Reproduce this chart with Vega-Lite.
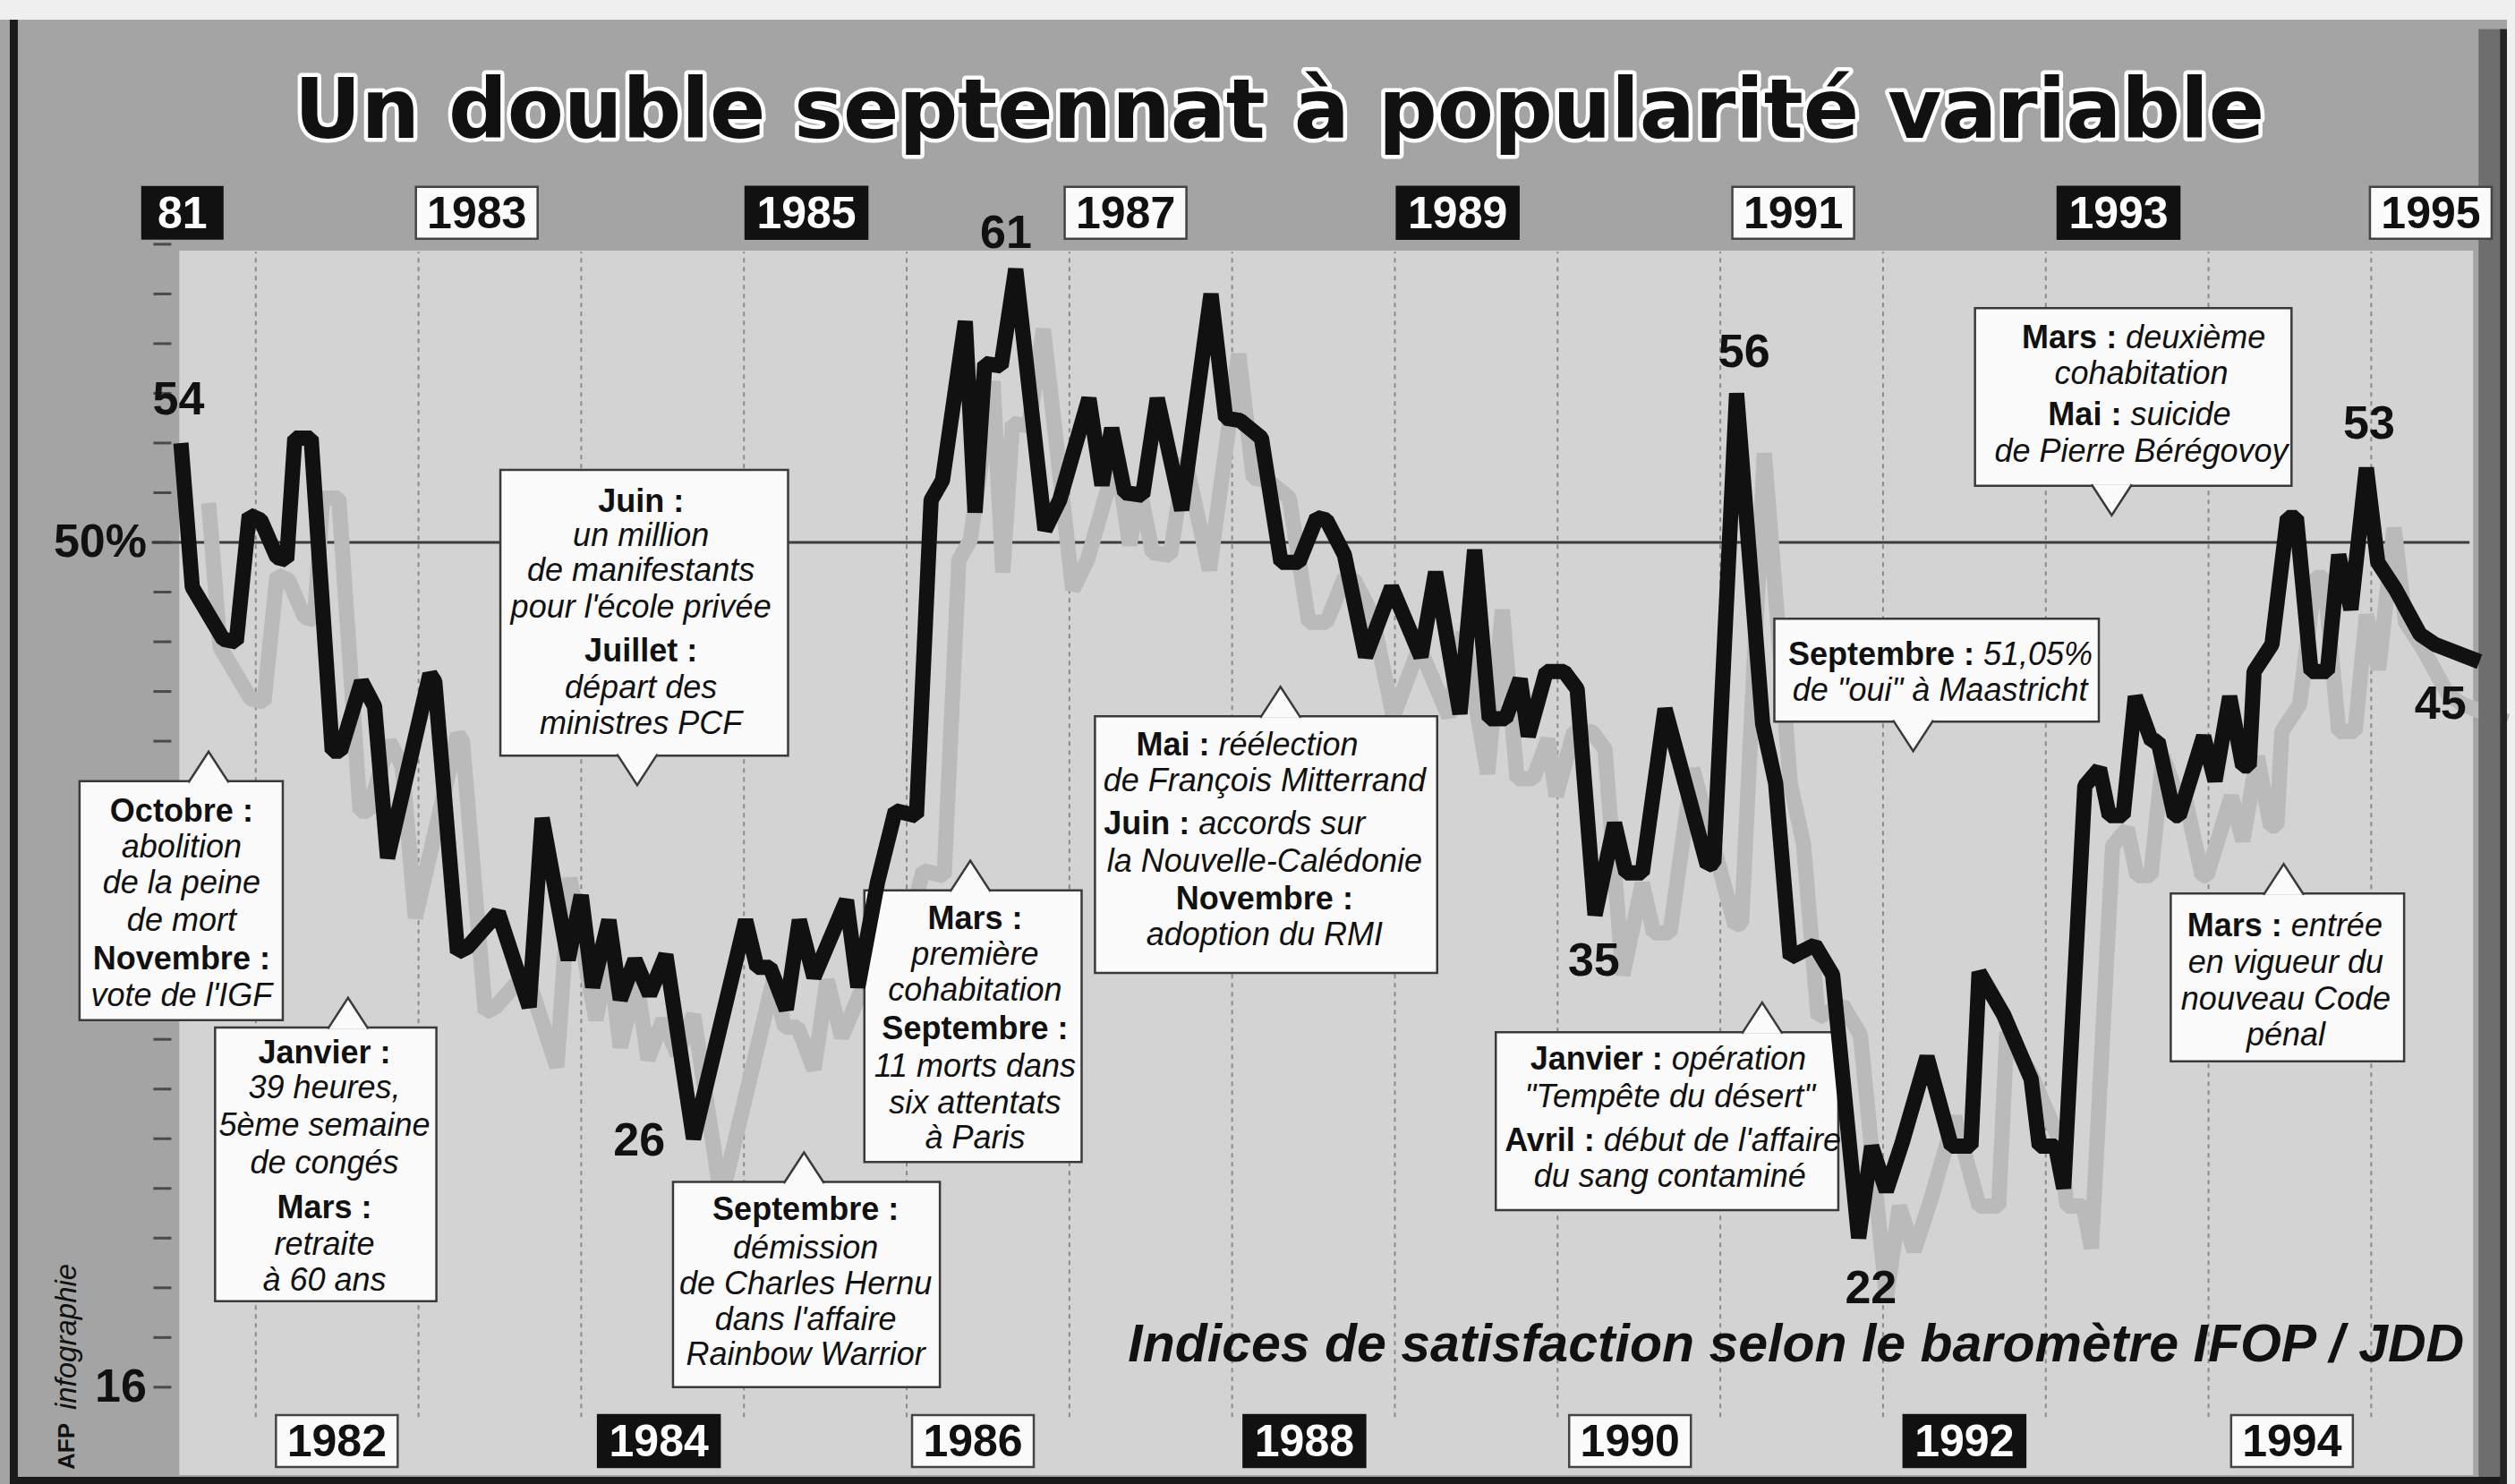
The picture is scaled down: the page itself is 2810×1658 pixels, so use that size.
{
  "$schema": "https://vega.github.io/schema/vega-lite/v6.json",
  "width": 2810,
  "height": 1658,
  "autosize": {"type": "fit", "contains": "padding"},
  "padding": 0,
  "background": "#efefef",
  "config": {"view": {"stroke": null}},
  "datasets": {
    "serie": [
      {"date":1981.54,"indice":54},{"date":1981.61,"indice":48.2},{"date":1981.80,"indice":46.1},{"date":1981.88,"indice":46.0},
      {"date":1981.96,"indice":51.1},{"date":1982.03,"indice":50.9},{"date":1982.13,"indice":49.4},{"date":1982.19,"indice":49.3},
      {"date":1982.24,"indice":54.2},{"date":1982.34,"indice":54.2},{"date":1982.47,"indice":41.6},{"date":1982.52,"indice":41.6},
      {"date":1982.65,"indice":44.4},{"date":1982.73,"indice":43.4},{"date":1982.81,"indice":37.3},{"date":1983.07,"indice":44.7},
      {"date":1983.10,"indice":44.4},{"date":1983.24,"indice":33.5},{"date":1983.30,"indice":33.7},{"date":1983.49,"indice":35.1},
      {"date":1983.68,"indice":31.3},{"date":1983.76,"indice":38.9},{"date":1983.92,"indice":33.2},{"date":1984.00,"indice":35.8},
      {"date":1984.07,"indice":32.1},{"date":1984.17,"indice":34.8},{"date":1984.24,"indice":31.6},{"date":1984.33,"indice":33.2},
      {"date":1984.42,"indice":31.8},{"date":1984.52,"indice":33.4},{"date":1984.69,"indice":26},{"date":1985.01,"indice":34.8},
      {"date":1985.08,"indice":32.9},{"date":1985.16,"indice":32.9},{"date":1985.26,"indice":31.2},{"date":1985.34,"indice":34.8},
      {"date":1985.43,"indice":32.5},{"date":1985.63,"indice":35.6},{"date":1985.70,"indice":32.1},{"date":1985.82,"indice":36.3},
      {"date":1985.93,"indice":39.2},{"date":1986.06,"indice":39.0},{"date":1986.15,"indice":51.7},{"date":1986.22,"indice":52.5},
      {"date":1986.36,"indice":58.9},{"date":1986.42,"indice":51.2},{"date":1986.48,"indice":57.2},{"date":1986.58,"indice":57.1},
      {"date":1986.67,"indice":61},{"date":1986.85,"indice":50.5},{"date":1986.94,"indice":51.7},{"date":1987.12,"indice":55.8},
      {"date":1987.20,"indice":52.3},{"date":1987.26,"indice":54.6},{"date":1987.34,"indice":52.0},{"date":1987.45,"indice":51.9},
      {"date":1987.54,"indice":55.8},{"date":1987.69,"indice":51.3},{"date":1987.87,"indice":60.0},{"date":1987.96,"indice":55.0},
      {"date":1988.05,"indice":54.9},{"date":1988.18,"indice":54.2},{"date":1988.30,"indice":49.2},{"date":1988.41,"indice":49.2},
      {"date":1988.52,"indice":51.0},{"date":1988.58,"indice":50.9},{"date":1988.69,"indice":49.5},{"date":1988.82,"indice":45.4},
      {"date":1988.98,"indice":48.2},{"date":1989.16,"indice":45.4},{"date":1989.25,"indice":48.8},{"date":1989.40,"indice":43.1},
      {"date":1989.49,"indice":49.7},{"date":1989.58,"indice":42.9},{"date":1989.68,"indice":42.9},{"date":1989.77,"indice":44.5},
      {"date":1989.82,"indice":42.2},{"date":1989.93,"indice":44.8},{"date":1990.04,"indice":44.8},{"date":1990.12,"indice":44.1},
      {"date":1990.23,"indice":35},{"date":1990.35,"indice":38.7},{"date":1990.42,"indice":36.7},{"date":1990.52,"indice":36.7},
      {"date":1990.66,"indice":43.3},{"date":1990.92,"indice":37.0},{"date":1990.96,"indice":37.1},{"date":1991.10,"indice":56},
      {"date":1991.26,"indice":42.7},{"date":1991.34,"indice":40.3},{"date":1991.43,"indice":33.3},{"date":1991.58,"indice":33.8},
      {"date":1991.69,"indice":32.6},{"date":1991.85,"indice":22},{"date":1991.93,"indice":25.7},{"date":1992.02,"indice":23.9},
      {"date":1992.12,"indice":25.9},{"date":1992.27,"indice":29.3},{"date":1992.42,"indice":25.7},{"date":1992.54,"indice":25.7},
      {"date":1992.59,"indice":32.7},{"date":1992.74,"indice":31.0},{"date":1992.91,"indice":28.4},{"date":1992.96,"indice":25.7},
      {"date":1993.06,"indice":25.7},{"date":1993.11,"indice":24.0},{"date":1993.24,"indice":40.2},{"date":1993.33,"indice":40.9},
      {"date":1993.39,"indice":39.0},{"date":1993.475,"indice":39.0},{"date":1993.55,"indice":43.8},{"date":1993.65,"indice":42.0},
      {"date":1993.69,"indice":42.0},{"date":1993.79,"indice":39.0},{"date":1993.82,"indice":39.0},{"date":1993.97,"indice":42.2},
      {"date":1994.04,"indice":40.4},{"date":1994.13,"indice":43.8},{"date":1994.21,"indice":41.0},{"date":1994.25,"indice":41.0},
      {"date":1994.28,"indice":44.8},{"date":1994.39,"indice":45.9},{"date":1994.485,"indice":51.0},{"date":1994.54,"indice":51.0},
      {"date":1994.63,"indice":44.8},{"date":1994.73,"indice":44.8},{"date":1994.80,"indice":49.5},{"date":1994.875,"indice":47.3},
      {"date":1994.97,"indice":53},{"date":1995.04,"indice":49.2},{"date":1995.15,"indice":48.1},{"date":1995.30,"indice":46.3},
      {"date":1995.39,"indice":45.9},{"date":1995.665,"indice":45.2}
    ],
    "grille": [
      {"annee":1982},{"annee":1983},{"annee":1984},{"annee":1985},{"annee":1986},{"annee":1987},{"annee":1988},
      {"annee":1989},{"annee":1990},{"annee":1991},{"annee":1992},{"annee":1993},{"annee":1994},{"annee":1995}
    ],
    "graduations": [
      {"valeur":16,"label":"16"},{"valeur":18,"label":""},{"valeur":20,"label":""},{"valeur":22,"label":""},
      {"valeur":24,"label":""},{"valeur":26,"label":""},{"valeur":28,"label":""},{"valeur":30,"label":""},
      {"valeur":32,"label":""},{"valeur":34,"label":""},{"valeur":36,"label":""},{"valeur":38,"label":""},
      {"valeur":40,"label":""},{"valeur":42,"label":""},{"valeur":44,"label":""},{"valeur":46,"label":""},
      {"valeur":48,"label":""},{"valeur":50,"label":"50%"},{"valeur":52,"label":""},{"valeur":54,"label":""},
      {"valeur":56,"label":""},{"valeur":58,"label":""},{"valeur":60,"label":""},{"valeur":62,"label":""}
    ],
    "annees": [
      {"annee":1981,"label":"81","date":1981.549},
      {"annee":1982,"label":"1982","date":1982.498},
      {"annee":1983,"label":"1983","date":1983.358},
      {"annee":1984,"label":"1984","date":1984.477},
      {"annee":1985,"label":"1985","date":1985.384},
      {"annee":1986,"label":"1986","date":1986.407},
      {"annee":1987,"label":"1987","date":1987.345},
      {"annee":1988,"label":"1988","date":1988.444},
      {"annee":1989,"label":"1989","date":1989.386},
      {"annee":1990,"label":"1990","date":1990.445},
      {"annee":1991,"label":"1991","date":1991.448},
      {"annee":1992,"label":"1992","date":1992.5},
      {"annee":1993,"label":"1993","date":1993.447},
      {"annee":1994,"label":"1994","date":1994.513},
      {"annee":1995,"label":"1995","date":1995.366}
    ],
    "pics": [
      {"date":1981.525,"indice":55.73,"label":"54"},
      {"date":1986.61,"indice":62.43,"label":"61"},
      {"date":1984.356,"indice":25.91,"label":"26"},
      {"date":1991.146,"indice":57.64,"label":"56"},
      {"date":1990.223,"indice":33.14,"label":"35"},
      {"date":1991.925,"indice":19.96,"label":"22"},
      {"date":1994.987,"indice":54.75,"label":"53"},
      {"date":1995.425,"indice":43.48,"label":"45"}
    ],
    "boites": [
      {"id":"A1","debut":1980.917,"fin":1982.166,"bas":30.77,"haut":40.39,"pointe":1981.71,"sens":"haut"},
      {"id":"A2","debut":1981.75,"fin":1983.11,"bas":19.46,"haut":30.48,"pointe":1982.567,"sens":"haut"},
      {"id":"A3","debut":1983.503,"fin":1985.271,"bas":41.42,"haut":52.92,"pointe":1984.344,"sens":"bas"},
      {"id":"A4","debut":1984.564,"fin":1986.204,"bas":16.0,"haut":24.26,"pointe":1985.369,"sens":"haut"},
      {"id":"A5","debut":1985.74,"fin":1987.075,"bas":25.06,"haut":36.0,"pointe":1986.391,"sens":"haut"},
      {"id":"A6","debut":1987.157,"fin":1989.26,"bas":32.67,"haut":43.0,"pointe":1988.297,"sens":"haut"},
      {"id":"A7","debut":1992.565,"fin":1994.51,"bas":52.28,"haut":59.43,"pointe":1993.405,"sens":"bas"},
      {"id":"A8","debut":1991.332,"fin":1993.326,"bas":42.79,"haut":46.93,"pointe":1992.185,"sens":"bas"},
      {"id":"A9","debut":1989.62,"fin":1991.725,"bas":23.13,"haut":30.29,"pointe":1991.257,"sens":"haut"},
      {"id":"A10","debut":1993.768,"fin":1995.202,"bas":29.12,"haut":35.87,"pointe":1994.462,"sens":"haut"}
    ],
    "notes": [
      {"date":1981.544,"indice":39.16,"texte":"Octobre :","type":"mois","partie":"centre"},
      {"date":1981.544,"indice":37.70,"texte":"abolition","type":"evenement","partie":"centre"},
      {"date":1981.544,"indice":36.26,"texte":"de la peine","type":"evenement","partie":"centre"},
      {"date":1981.544,"indice":34.77,"texte":"de mort","type":"evenement","partie":"centre"},
      {"date":1981.544,"indice":33.23,"texte":"Novembre :","type":"mois","partie":"centre"},
      {"date":1981.544,"indice":31.74,"texte":"vote de l'IGF","type":"evenement","partie":"centre"},

      {"date":1982.422,"indice":29.43,"texte":"Janvier :","type":"mois","partie":"centre"},
      {"date":1982.422,"indice":28.03,"texte":"39 heures,","type":"evenement","partie":"centre"},
      {"date":1982.422,"indice":26.52,"texte":"5ème semaine","type":"evenement","partie":"centre"},
      {"date":1982.422,"indice":25.01,"texte":"de congés","type":"evenement","partie":"centre"},
      {"date":1982.422,"indice":23.19,"texte":"Mars :","type":"mois","partie":"centre"},
      {"date":1982.422,"indice":21.74,"texte":"retraite","type":"evenement","partie":"centre"},
      {"date":1982.422,"indice":20.28,"texte":"à 60 ans","type":"evenement","partie":"centre"},

      {"date":1984.367,"indice":51.63,"texte":"Juin :","type":"mois","partie":"centre"},
      {"date":1984.367,"indice":50.27,"texte":"un million","type":"evenement","partie":"centre"},
      {"date":1984.367,"indice":48.84,"texte":"de manifestants","type":"evenement","partie":"centre"},
      {"date":1984.367,"indice":47.37,"texte":"pour l'école privée","type":"evenement","partie":"centre"},
      {"date":1984.367,"indice":45.59,"texte":"Juillet :","type":"mois","partie":"centre"},
      {"date":1984.367,"indice":44.13,"texte":"départ des","type":"evenement","partie":"centre"},
      {"date":1984.367,"indice":42.68,"texte":"ministres PCF","type":"evenement","partie":"centre"},

      {"date":1985.379,"indice":23.13,"texte":"Septembre :","type":"mois","partie":"centre"},
      {"date":1985.379,"indice":21.59,"texte":"démission","type":"evenement","partie":"centre"},
      {"date":1985.379,"indice":20.15,"texte":"de Charles Hernu","type":"evenement","partie":"centre"},
      {"date":1985.379,"indice":18.71,"texte":"dans l'affaire","type":"evenement","partie":"centre"},
      {"date":1985.379,"indice":17.29,"texte":"Rainbow Warrior","type":"evenement","partie":"centre"},

      {"date":1986.42,"indice":34.85,"texte":"Mars :","type":"mois","partie":"centre"},
      {"date":1986.42,"indice":33.39,"texte":"première","type":"evenement","partie":"centre"},
      {"date":1986.42,"indice":31.94,"texte":"cohabitation","type":"evenement","partie":"centre"},
      {"date":1986.42,"indice":30.41,"texte":"Septembre :","type":"mois","partie":"centre"},
      {"date":1986.42,"indice":28.90,"texte":"11 morts dans","type":"evenement","partie":"centre"},
      {"date":1986.42,"indice":27.42,"texte":"six attentats","type":"evenement","partie":"centre"},
      {"date":1986.42,"indice":26.0,"texte":"à Paris","type":"evenement","partie":"centre"},

      {"date":1987.889,"indice":41.83,"texte":"Mai :","type":"mois","partie":"gauche"},
      {"date":1987.889,"indice":41.83,"texte":"réélection","type":"evenement","partie":"droite"},
      {"date":1988.199,"indice":40.39,"texte":"de François Mitterrand","type":"evenement","partie":"centre"},
      {"date":1987.766,"indice":38.66,"texte":"Juin :","type":"mois","partie":"gauche"},
      {"date":1987.766,"indice":38.66,"texte":"accords sur","type":"evenement","partie":"droite"},
      {"date":1988.199,"indice":37.14,"texte":"la Nouvelle-Calédonie","type":"evenement","partie":"centre"},
      {"date":1988.199,"indice":35.63,"texte":"Novembre :","type":"mois","partie":"centre"},
      {"date":1988.199,"indice":34.18,"texte":"adoption du RMI","type":"evenement","partie":"centre"},

      {"date":1993.464,"indice":58.23,"texte":"Mars :","type":"mois","partie":"gauche"},
      {"date":1993.464,"indice":58.23,"texte":"deuxième","type":"evenement","partie":"droite"},
      {"date":1993.587,"indice":56.77,"texte":"cohabitation","type":"evenement","partie":"centre"},
      {"date":1993.493,"indice":55.10,"texte":"Mai :","type":"mois","partie":"gauche"},
      {"date":1993.493,"indice":55.10,"texte":"suicide","type":"evenement","partie":"droite"},
      {"date":1993.587,"indice":53.65,"texte":"de Pierre Bérégovoy","type":"evenement","partie":"centre"},

      {"date":1992.589,"indice":45.46,"texte":"Septembre :","type":"mois","partie":"gauche"},
      {"date":1992.589,"indice":45.46,"texte":"51,05%","type":"evenement","partie":"droite"},
      {"date":1992.35,"indice":44.01,"texte":"de \"oui\" à Maastricht","type":"evenement","partie":"centre"},

      {"date":1990.674,"indice":29.19,"texte":"Janvier :","type":"mois","partie":"gauche"},
      {"date":1990.674,"indice":29.19,"texte":"opération","type":"evenement","partie":"droite"},
      {"date":1990.69,"indice":27.68,"texte":"\"Tempête du désert\"","type":"evenement","partie":"centre"},
      {"date":1990.256,"indice":25.91,"texte":"Avril :","type":"mois","partie":"gauche"},
      {"date":1990.256,"indice":25.91,"texte":"début de l'affaire","type":"evenement","partie":"droite"},
      {"date":1990.69,"indice":24.46,"texte":"du sang contaminé","type":"evenement","partie":"centre"},

      {"date":1994.48,"indice":34.54,"texte":"Mars :","type":"mois","partie":"gauche"},
      {"date":1994.48,"indice":34.54,"texte":"entrée","type":"evenement","partie":"droite"},
      {"date":1994.475,"indice":33.08,"texte":"en vigueur du","type":"evenement","partie":"centre"},
      {"date":1994.475,"indice":31.61,"texte":"nouveau Code","type":"evenement","partie":"centre"},
      {"date":1994.475,"indice":30.16,"texte":"pénal","type":"evenement","partie":"centre"}
    ],
    "textes": [
      {"role":"titre","texte":"Un double septennat à popularité variable"},
      {"role":"source","texte":"Indices de satisfaction selon le baromètre IFOP / JDD"},
      {"role":"agence","texte":"AFP"},
      {"role":"service","texte":"infographie"}
    ]
  },
  "layer": [
    {
      "data": {"values": [{}]},
      "mark": {"type": "rect", "fill": "#a4a4a4"},
      "encoding": {
        "x": {"datum": 1980.4282, "type": "quantitative", "scale": {"domain": [1980.4282, 1995.8339], "nice": false, "zero": false}, "axis": null},
        "x2": {"datum": 1995.8339},
        "y": {"datum": 12.104, "type": "quantitative", "scale": {"domain": [12.104, 71.83], "nice": false, "zero": false}, "axis": null},
        "y2": {"datum": 71.04}
      }
    },
    {
      "data": {"values": [{}]},
      "mark": {"type": "rect", "fill": "#d3d3d3"},
      "encoding": {
        "x": {"datum": 1981.53, "type": "quantitative", "scale": {"domain": [1980.4282, 1995.8339], "nice": false, "zero": false}, "axis": null},
        "x2": {"datum": 1995.626},
        "y": {"datum": 12.46, "type": "quantitative", "scale": {"domain": [12.104, 71.83], "nice": false, "zero": false}, "axis": null},
        "y2": {"datum": 61.74}
      }
    },
    {
      "data": {"values": [{}]},
      "mark": {"type": "rect", "fill": "#1a1a1a"},
      "encoding": {
        "x": {"datum": 1980.4885, "type": "quantitative", "scale": {"domain": [1980.4282, 1995.8339], "nice": false, "zero": false}, "axis": null},
        "x2": {"datum": 1980.5378},
        "y": {"datum": 12.104, "type": "quantitative", "scale": {"domain": [12.104, 71.83], "nice": false, "zero": false}, "axis": null},
        "y2": {"datum": 71.04}
      }
    },
    {
      "data": {"values": [{}]},
      "mark": {"type": "rect", "fill": "#1a1a1a"},
      "encoding": {
        "x": {"datum": 1980.4885, "type": "quantitative", "scale": {"domain": [1980.4282, 1995.8339], "nice": false, "zero": false}, "axis": null},
        "x2": {"datum": 1995.8339},
        "y": {"datum": 12.104, "type": "quantitative", "scale": {"domain": [12.104, 71.83], "nice": false, "zero": false}, "axis": null},
        "y2": {"datum": 12.392}
      }
    },
    {
      "data": {"name": "grille"},
      "mark": {"type": "rule", "stroke": "#8a8a8a", "strokeWidth": 2, "strokeDash": [5, 5]},
      "encoding": {
        "x": {"field": "annee", "type": "quantitative", "scale": {"domain": [1980.4282, 1995.8339], "nice": false, "zero": false}, "axis": null},
        "y": {"datum": 14.8, "type": "quantitative", "scale": {"domain": [12.104, 71.83], "nice": false, "zero": false}, "axis": null},
        "y2": {"datum": 61.7}
      }
    },
    {
      "data": {"name": "graduations"},
      "mark": {"type": "rule", "stroke": "#4a4a4a", "strokeWidth": 3},
      "encoding": {
        "x": {"datum": 1981.371, "type": "quantitative", "scale": {"domain": [1980.4282, 1995.8339], "nice": false, "zero": false}, "axis": null},
        "x2": {"datum": 1981.481},
        "y": {"field": "valeur", "type": "quantitative", "scale": {"domain": [12.104, 71.83], "nice": false, "zero": false}, "axis": null}
      }
    },
    {
      "data": {"name": "graduations"},
      "transform": [{"filter": "datum.label != ''"}],
      "mark": {"type": "text", "font": "Liberation Sans, Arial, sans-serif", "fontWeight": "bold", "fontSize": 52, "fill": "#111", "align": "right", "baseline": "middle"},
      "encoding": {
        "x": {"datum": 1981.33, "type": "quantitative", "scale": {"domain": [1980.4282, 1995.8339], "nice": false, "zero": false}, "axis": null},
        "y": {"field": "valeur", "type": "quantitative", "scale": {"domain": [12.104, 71.83], "nice": false, "zero": false}, "axis": null},
        "text": {"field": "label"}
      }
    },
    {
      "data": {"values": [{}]},
      "mark": {"type": "rule", "stroke": "#3c3c3c", "strokeWidth": 3},
      "encoding": {
        "x": {"datum": 1981.361, "type": "quantitative", "scale": {"domain": [1980.4282, 1995.8339], "nice": false, "zero": false}, "axis": null},
        "x2": {"datum": 1995.604},
        "y": {"datum": 50, "type": "quantitative", "scale": {"domain": [12.104, 71.83], "nice": false, "zero": false}, "axis": null}
      }
    },
    {
      "data": {"name": "serie"},
      "mark": {"type": "line", "stroke": "#bababa", "strokeWidth": 17, "strokeJoin": "bevel", "xOffset": 31, "yOffset": 67},
      "encoding": {
        "x": {"field": "date", "type": "quantitative", "scale": {"domain": [1980.4282, 1995.8339], "nice": false, "zero": false}, "axis": null},
        "y": {"field": "indice", "type": "quantitative", "scale": {"domain": [12.104, 71.83], "nice": false, "zero": false}, "axis": null}
      }
    },
    {
      "data": {"values": [{}]},
      "mark": {"type": "rect", "fill": "#6e6e6e"},
      "encoding": {
        "x": {"datum": 1995.659, "type": "quantitative", "scale": {"domain": [1980.4282, 1995.8339], "nice": false, "zero": false}, "axis": null},
        "x2": {"datum": 1995.791},
        "y": {"datum": 12.392, "type": "quantitative", "scale": {"domain": [12.104, 71.83], "nice": false, "zero": false}, "axis": null},
        "y2": {"datum": 70.66}
      }
    },
    {
      "data": {"values": [{}]},
      "mark": {"type": "rect", "fill": "#222222"},
      "encoding": {
        "x": {"datum": 1995.791, "type": "quantitative", "scale": {"domain": [1980.4282, 1995.8339], "nice": false, "zero": false}, "axis": null},
        "x2": {"datum": 1995.8339},
        "y": {"datum": 12.104, "type": "quantitative", "scale": {"domain": [12.104, 71.83], "nice": false, "zero": false}, "axis": null},
        "y2": {"datum": 70.66}
      }
    },
    {
      "data": {"name": "boites"},
      "mark": {"type": "rect", "fill": "#fbfbfb", "stroke": "#3a3a3a", "strokeWidth": 2.5},
      "encoding": {
        "x": {"field": "debut", "type": "quantitative", "scale": {"domain": [1980.4282, 1995.8339], "nice": false, "zero": false}, "axis": null},
        "x2": {"field": "fin"},
        "y": {"field": "bas", "type": "quantitative", "scale": {"domain": [12.104, 71.83], "nice": false, "zero": false}, "axis": null},
        "y2": {"field": "haut"}
      }
    },
    {
      "data": {"name": "boites"},
      "transform": [{"filter": "datum.sens == 'haut'"}],
      "mark": {"type": "point", "shape": "M-1,0.7667L0,-0.7667L1,0.7667", "size": 2025, "filled": true, "fill": "#fbfbfb", "stroke": "#3a3a3a", "strokeWidth": 2.5, "opacity": 1, "yOffset": -15.75},
      "encoding": {
        "x": {"field": "pointe", "type": "quantitative", "scale": {"domain": [1980.4282, 1995.8339], "nice": false, "zero": false}, "axis": null},
        "y": {"field": "haut", "type": "quantitative", "scale": {"domain": [12.104, 71.83], "nice": false, "zero": false}, "axis": null}
      }
    },
    {
      "data": {"name": "boites"},
      "transform": [{"filter": "datum.sens == 'bas'"}],
      "mark": {"type": "point", "shape": "M-1,-0.7667L0,0.7667L1,-0.7667", "size": 2025, "filled": true, "fill": "#fbfbfb", "stroke": "#3a3a3a", "strokeWidth": 2.5, "opacity": 1, "yOffset": 15.75},
      "encoding": {
        "x": {"field": "pointe", "type": "quantitative", "scale": {"domain": [1980.4282, 1995.8339], "nice": false, "zero": false}, "axis": null},
        "y": {"field": "bas", "type": "quantitative", "scale": {"domain": [12.104, 71.83], "nice": false, "zero": false}, "axis": null}
      }
    },
    {
      "data": {"name": "notes"},
      "transform": [{"filter": "datum.type == 'mois' && datum.partie == 'centre'"}],
      "mark": {"type": "text", "font": "Liberation Sans, Arial, sans-serif", "fontWeight": "bold", "fontSize": 36, "fill": "#111", "align": "center", "baseline": "middle"},
      "encoding": {
        "x": {"field": "date", "type": "quantitative", "scale": {"domain": [1980.4282, 1995.8339], "nice": false, "zero": false}, "axis": null},
        "y": {"field": "indice", "type": "quantitative", "scale": {"domain": [12.104, 71.83], "nice": false, "zero": false}, "axis": null},
        "text": {"field": "texte"}
      }
    },
    {
      "data": {"name": "notes"},
      "transform": [{"filter": "datum.type == 'evenement' && datum.partie == 'centre'"}],
      "mark": {"type": "text", "font": "Liberation Sans, Arial, sans-serif", "fontStyle": "italic", "fontSize": 36, "fill": "#111", "align": "center", "baseline": "middle"},
      "encoding": {
        "x": {"field": "date", "type": "quantitative", "scale": {"domain": [1980.4282, 1995.8339], "nice": false, "zero": false}, "axis": null},
        "y": {"field": "indice", "type": "quantitative", "scale": {"domain": [12.104, 71.83], "nice": false, "zero": false}, "axis": null},
        "text": {"field": "texte"}
      }
    },
    {
      "data": {"name": "notes"},
      "transform": [{"filter": "datum.partie == 'gauche'"}],
      "mark": {"type": "text", "font": "Liberation Sans, Arial, sans-serif", "fontWeight": "bold", "fontSize": 36, "fill": "#111", "align": "right", "baseline": "middle", "dx": -5},
      "encoding": {
        "x": {"field": "date", "type": "quantitative", "scale": {"domain": [1980.4282, 1995.8339], "nice": false, "zero": false}, "axis": null},
        "y": {"field": "indice", "type": "quantitative", "scale": {"domain": [12.104, 71.83], "nice": false, "zero": false}, "axis": null},
        "text": {"field": "texte"}
      }
    },
    {
      "data": {"name": "notes"},
      "transform": [{"filter": "datum.partie == 'droite'"}],
      "mark": {"type": "text", "font": "Liberation Sans, Arial, sans-serif", "fontStyle": "italic", "fontSize": 36, "fill": "#111", "align": "left", "baseline": "middle", "dx": 5},
      "encoding": {
        "x": {"field": "date", "type": "quantitative", "scale": {"domain": [1980.4282, 1995.8339], "nice": false, "zero": false}, "axis": null},
        "y": {"field": "indice", "type": "quantitative", "scale": {"domain": [12.104, 71.83], "nice": false, "zero": false}, "axis": null},
        "text": {"field": "texte"}
      }
    },
    {
      "data": {"name": "serie"},
      "mark": {"type": "line", "stroke": "#111111", "strokeWidth": 17, "strokeJoin": "bevel"},
      "encoding": {
        "x": {"field": "date", "type": "quantitative", "scale": {"domain": [1980.4282, 1995.8339], "nice": false, "zero": false}, "axis": null},
        "y": {"field": "indice", "type": "quantitative", "scale": {"domain": [12.104, 71.83], "nice": false, "zero": false}, "axis": null}
      }
    },
    {
      "data": {"name": "annees"},
      "transform": [{"filter": "datum.annee % 2 == 1 && datum.annee != 1981"}],
      "mark": {"type": "rect", "width": 136, "height": 58, "strokeWidth": 2.5},
      "encoding": {
        "x": {"field": "date", "type": "quantitative", "scale": {"domain": [1980.4282, 1995.8339], "nice": false, "zero": false}, "axis": null},
        "y": {"datum": 63.27, "type": "quantitative", "scale": {"domain": [12.104, 71.83], "nice": false, "zero": false}, "axis": null},
        "fill": {"condition": {"test": "datum.annee % 4 <= 1", "value": "#111111"}, "value": "#fbfbfb"},
        "stroke": {"condition": {"test": "datum.annee % 4 <= 1", "value": "#111111"}, "value": "#444444"}
      }
    },
    {
      "data": {"name": "annees"},
      "transform": [{"filter": "datum.annee == 1981"}],
      "mark": {"type": "rect", "width": 92, "height": 60, "fill": "#111111"},
      "encoding": {
        "x": {"field": "date", "type": "quantitative", "scale": {"domain": [1980.4282, 1995.8339], "nice": false, "zero": false}, "axis": null},
        "y": {"datum": 63.27, "type": "quantitative", "scale": {"domain": [12.104, 71.83], "nice": false, "zero": false}, "axis": null}
      }
    },
    {
      "data": {"name": "annees"},
      "transform": [{"filter": "datum.annee % 2 == 0"}],
      "mark": {"type": "rect", "width": 136, "height": 58, "strokeWidth": 2.5},
      "encoding": {
        "x": {"field": "date", "type": "quantitative", "scale": {"domain": [1980.4282, 1995.8339], "nice": false, "zero": false}, "axis": null},
        "y": {"datum": 13.83, "type": "quantitative", "scale": {"domain": [12.104, 71.83], "nice": false, "zero": false}, "axis": null},
        "fill": {"condition": {"test": "datum.annee % 4 <= 1", "value": "#111111"}, "value": "#fbfbfb"},
        "stroke": {"condition": {"test": "datum.annee % 4 <= 1", "value": "#111111"}, "value": "#444444"}
      }
    },
    {
      "data": {"name": "annees"},
      "transform": [{"filter": "datum.annee % 2 == 1"}],
      "mark": {"type": "text", "font": "Liberation Sans, Arial, sans-serif", "fontWeight": "bold", "fontSize": 50, "align": "center", "baseline": "middle", "dy": 2},
      "encoding": {
        "x": {"field": "date", "type": "quantitative", "scale": {"domain": [1980.4282, 1995.8339], "nice": false, "zero": false}, "axis": null},
        "y": {"datum": 63.27, "type": "quantitative", "scale": {"domain": [12.104, 71.83], "nice": false, "zero": false}, "axis": null},
        "text": {"field": "label"},
        "fill": {"condition": {"test": "datum.annee % 4 <= 1", "value": "#ffffff"}, "value": "#111111"}
      }
    },
    {
      "data": {"name": "annees"},
      "transform": [{"filter": "datum.annee % 2 == 0"}],
      "mark": {"type": "text", "font": "Liberation Sans, Arial, sans-serif", "fontWeight": "bold", "fontSize": 50, "align": "center", "baseline": "middle", "dy": 2},
      "encoding": {
        "x": {"field": "date", "type": "quantitative", "scale": {"domain": [1980.4282, 1995.8339], "nice": false, "zero": false}, "axis": null},
        "y": {"datum": 13.83, "type": "quantitative", "scale": {"domain": [12.104, 71.83], "nice": false, "zero": false}, "axis": null},
        "text": {"field": "label"},
        "fill": {"condition": {"test": "datum.annee % 4 <= 1", "value": "#ffffff"}, "value": "#111111"}
      }
    },
    {
      "data": {"name": "pics"},
      "mark": {"type": "text", "font": "Liberation Sans, Arial, sans-serif", "fontWeight": "bold", "fontSize": 52, "fill": "#111", "align": "center", "baseline": "middle"},
      "encoding": {
        "x": {"field": "date", "type": "quantitative", "scale": {"domain": [1980.4282, 1995.8339], "nice": false, "zero": false}, "axis": null},
        "y": {"field": "indice", "type": "quantitative", "scale": {"domain": [12.104, 71.83], "nice": false, "zero": false}, "axis": null},
        "text": {"field": "label"}
      }
    },
    {
      "data": {"name": "textes"},
      "transform": [{"filter": "datum.role == 'titre'"}],
      "mark": {"type": "text", "font": "DejaVu Sans, sans-serif", "fontWeight": "bold", "fontSize": 92, "fill": "#ffffff", "stroke": "#ffffff", "strokeWidth": 9, "strokeJoin": "round", "align": "center", "baseline": "alphabetic"},
      "encoding": {
        "x": {"datum": 1988.29, "type": "quantitative", "scale": {"domain": [1980.4282, 1995.8339], "nice": false, "zero": false}, "axis": null},
        "y": {"datum": 66.28, "type": "quantitative", "scale": {"domain": [12.104, 71.83], "nice": false, "zero": false}, "axis": null},
        "text": {"field": "texte"}
      }
    },
    {
      "data": {"name": "textes"},
      "transform": [{"filter": "datum.role == 'titre'"}],
      "mark": {"type": "text", "font": "DejaVu Sans, sans-serif", "fontWeight": "bold", "fontSize": 92, "fill": "#111111", "align": "center", "baseline": "alphabetic"},
      "encoding": {
        "x": {"datum": 1988.29, "type": "quantitative", "scale": {"domain": [1980.4282, 1995.8339], "nice": false, "zero": false}, "axis": null},
        "y": {"datum": 66.28, "type": "quantitative", "scale": {"domain": [12.104, 71.83], "nice": false, "zero": false}, "axis": null},
        "text": {"field": "texte"}
      }
    },
    {
      "data": {"name": "textes"},
      "transform": [{"filter": "datum.role == 'source'"}],
      "mark": {"type": "text", "font": "Liberation Sans, Arial, sans-serif", "fontWeight": "bold", "fontStyle": "italic", "fontSize": 59, "fill": "#111111", "align": "right", "baseline": "alphabetic"},
      "encoding": {
        "x": {"datum": 1995.571, "type": "quantitative", "scale": {"domain": [1980.4282, 1995.8339], "nice": false, "zero": false}, "axis": null},
        "y": {"datum": 17.04, "type": "quantitative", "scale": {"domain": [12.104, 71.83], "nice": false, "zero": false}, "axis": null},
        "text": {"field": "texte"}
      }
    },
    {
      "data": {"name": "textes"},
      "transform": [{"filter": "datum.role == 'agence'"}],
      "mark": {"type": "text", "font": "Liberation Sans, Arial, sans-serif", "fontWeight": "bold", "fontSize": 26, "fill": "#111111", "align": "left", "baseline": "middle", "angle": 270},
      "encoding": {
        "x": {"datum": 1980.839, "type": "quantitative", "scale": {"domain": [1980.4282, 1995.8339], "nice": false, "zero": false}, "axis": null},
        "y": {"datum": 12.68, "type": "quantitative", "scale": {"domain": [12.104, 71.83], "nice": false, "zero": false}, "axis": null},
        "text": {"field": "texte"}
      }
    },
    {
      "data": {"name": "textes"},
      "transform": [{"filter": "datum.role == 'service'"}],
      "mark": {"type": "text", "font": "Liberation Sans, Arial, sans-serif", "fontStyle": "italic", "fontSize": 33, "fill": "#111111", "align": "left", "baseline": "middle", "angle": 270},
      "encoding": {
        "x": {"datum": 1980.839, "type": "quantitative", "scale": {"domain": [1980.4282, 1995.8339], "nice": false, "zero": false}, "axis": null},
        "y": {"datum": 15.09, "type": "quantitative", "scale": {"domain": [12.104, 71.83], "nice": false, "zero": false}, "axis": null},
        "text": {"field": "texte"}
      }
    }
  ]
}
